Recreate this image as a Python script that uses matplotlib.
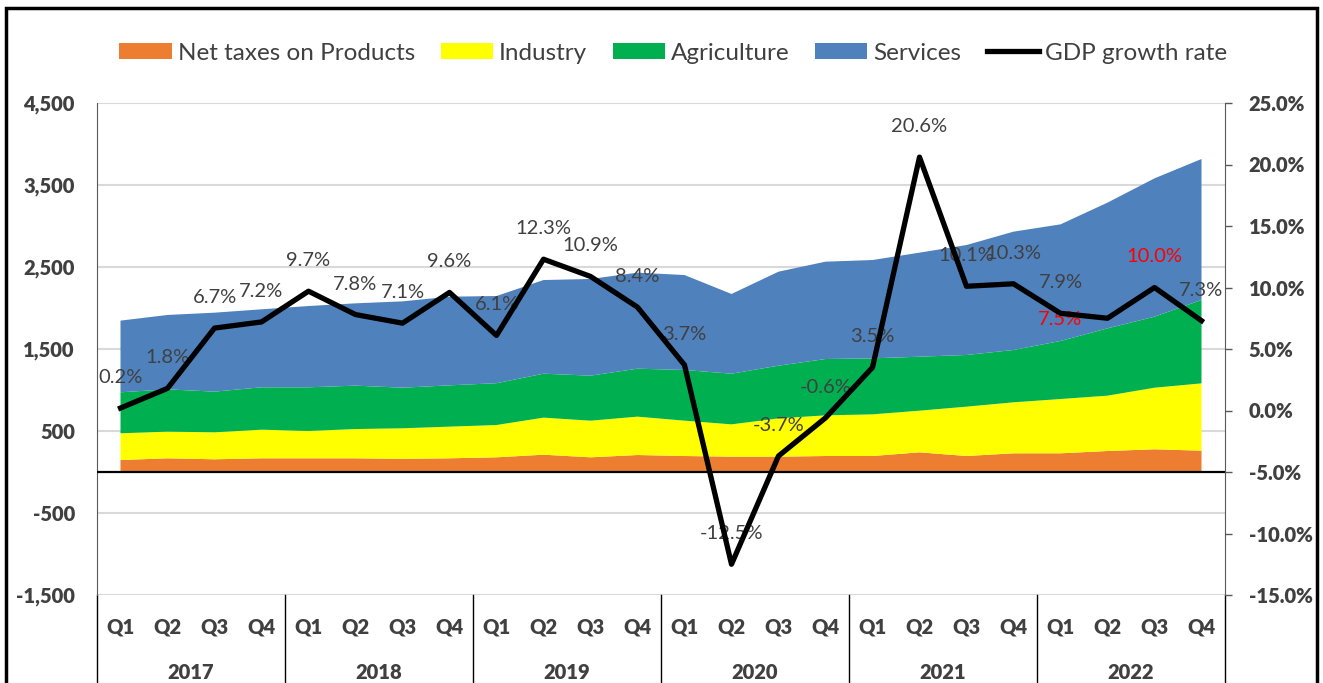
import numpy as np
import matplotlib.pyplot as plt
from matplotlib.patches import Patch, Rectangle
from matplotlib.lines import Line2D
from matplotlib.ticker import FuncFormatter

plt.rcParams['font.family'] = ['Lato', 'DejaVu Sans']

years = ['2017', '2018', '2019', '2020', '2021', '2022']
quarters = ['Q1', 'Q2', 'Q3', 'Q4']

net_taxes = [146, 167, 155, 167, 167, 167, 160, 167, 179, 211, 179, 207,
             195, 187, 187, 195, 195, 240, 195, 228, 228, 256, 277, 260]
industry = [326, 325, 329, 349, 333, 357, 373, 386, 394, 452, 447, 468,
            431, 394, 467, 496, 508, 508, 602, 622, 662, 675, 751, 821]
agriculture = [500, 516, 496, 517, 533, 529, 495, 504, 510, 536, 549, 585,
               618, 618, 643, 687, 683, 658, 630, 638, 708, 821, 866, 1017]
services = [874, 907, 963, 951, 991, 1004, 1053, 1081, 1063, 1142, 1179, 1171,
            1158, 972, 1146, 1187, 1199, 1269, 1341, 1443, 1422, 1533, 1687, 1719]
gdp_growth = [0.2, 1.8, 6.7, 7.2, 9.7, 7.8, 7.1, 9.6, 6.1, 12.3, 10.9, 8.4,
              3.7, -12.5, -3.7, -0.6, 3.5, 20.6, 10.1, 10.3, 7.9, 7.5, 10.0, 7.3]

colors = ['#ED7D31', '#FFFF00', '#00B050', '#4F81BD']
names = ['Net taxes on Products', 'Industry', 'Agriculture', 'Services']
text_gray = '#404040'

fig = plt.figure(figsize=(13.23, 6.83), dpi=100)
ax = fig.add_axes([97 / 1323, 1 - 595 / 683, (1225 - 97) / 1323, (595 - 103) / 683])
x = np.arange(len(net_taxes))

ax.stackplot(x, net_taxes, industry, agriculture, services, colors=colors, linewidth=0, zorder=2)
ax.set_xlim(-0.5, len(x) - 0.5)
ax.set_ylim(-1500, 4500)
ax.set_yticks(np.arange(-1500, 4501, 1000))
ax.yaxis.set_major_formatter(FuncFormatter(lambda v, p: f'{v:,.0f}'))
ax.grid(axis='y', color='#D9D9D9', linewidth=1.5, zorder=0)
ax.set_axisbelow(True)
ax.axhline(0, color='black', linewidth=1.6, zorder=4)
ax.tick_params(axis='y', length=0, pad=16, labelsize=14.5, labelcolor=text_gray)
for lbl in ax.get_yticklabels():
    lbl.set_fontweight('heavy')
ax.set_xticks([])
for s in ['top', 'right', 'bottom']:
    ax.spines[s].set_visible(False)
ax.spines['left'].set_color('#595959')

# two-level category axis
tr = ax.get_xaxis_transform()
for i in x:
    ax.text(i, -0.065, quarters[i % 4], transform=tr, ha='center', va='center',
            fontsize=14.5, fontweight='heavy', color=text_gray)
for k, yr in enumerate(years):
    ax.text(4 * k + 1.5, -0.157, yr, transform=tr, ha='center', va='center',
            fontsize=14.5, fontweight='heavy', color=text_gray)
for k in range(len(years) + 1):
    ax.plot([4 * k - 0.5] * 2, [0, -0.2], transform=tr, color='black',
            linewidth=1, clip_on=False)

ax2 = ax.twinx()
ax2.plot(x, gdp_growth, color='black', linewidth=3.8, zorder=5)
ax2.set_ylim(-15, 25)
ax2.set_yticks(np.arange(-15, 26, 5))
ax2.yaxis.set_major_formatter(FuncFormatter(lambda v, p: f'{v:.1f}%'))
ax2.tick_params(axis='y', length=5, width=1, color='#595959', pad=12,
                labelsize=14.5, labelcolor=text_gray)
for lbl in ax2.get_yticklabels():
    lbl.set_fontweight('heavy')
for s in ['top', 'left', 'bottom']:
    ax2.spines[s].set_visible(False)
ax2.spines['right'].set_color('#595959')

for i, v in enumerate(gdp_growth):
    col = text_gray
    off = (0, 22)
    if i == 21:
        col = 'red'
        off = (-34, -1)
    elif i == 22:
        col = 'red'
    ax2.annotate(f'{v:.1f}%', (i, v), xytext=off, textcoords='offset points',
                 ha='center', va='center', fontsize=14.5, color=col)

handles = [Patch(facecolor=c, edgecolor='none') for c in colors]
handles.append(Line2D([0], [0], color='black', linewidth=3.8))
leg = fig.legend(handles, names + ['GDP growth rate'], loc='center',
                 bbox_to_anchor=(0.509, 1 - 53 / 683), ncol=5, frameon=False,
                 fontsize=17.5, handlelength=2.15, handleheight=0.62,
                 handletextpad=0.25, columnspacing=1.05)
for t in leg.get_texts():
    t.set_color(text_gray)

fig.patches.append(Rectangle((6 / 1323, -0.05), (1317 - 6) / 1323, 1 - 8 / 683 + 0.05,
                             transform=fig.transFigure, fill=False,
                             edgecolor='black', linewidth=2.5))

fig.savefig('out.png', dpi=100)
